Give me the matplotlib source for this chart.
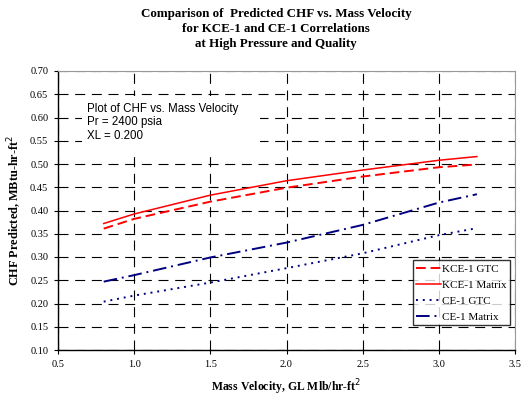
import numpy as np
import matplotlib
matplotlib.use("Agg")
import matplotlib.pyplot as plt
from matplotlib.patches import Rectangle

# data
mass_velocity = [0.8, 1.0, 1.5, 2.0, 2.5, 3.0, 3.25]
kce1_gtc = [0.361, 0.382, 0.419, 0.449, 0.473, 0.493, 0.499]
kce1_matrix = [0.372, 0.3925, 0.433, 0.464, 0.487, 0.508, 0.516]
ce1_gtc = [0.204, 0.217, 0.245, 0.276, 0.308, 0.347, 0.362]
ce1_matrix = [0.247, 0.261, 0.299, 0.331, 0.369, 0.417, 0.435]

x_ticks = [0.5, 1.0, 1.5, 2.0, 2.5, 3.0, 3.5]
y_ticks = [0.10, 0.15, 0.20, 0.25, 0.30, 0.35, 0.40, 0.45, 0.50, 0.55, 0.60, 0.65, 0.70]

serif = ["Liberation Serif", "DejaVu Serif"]
sans = ["Liberation Sans", "DejaVu Sans"]

fig = plt.figure(figsize=(5.31, 4.0), dpi=100)
ax = fig.add_axes([58 / 531, 50 / 400, 457 / 531, 279 / 400])

ax.plot(mass_velocity, kce1_gtc, color="red", lw=1.4, dashes=(5, 2.5), label="KCE-1 GTC", zorder=3)
ax.plot(mass_velocity, kce1_matrix, color="red", lw=1.1, label="KCE-1 Matrix", zorder=3)
ax.plot(mass_velocity, ce1_gtc, color="#000080", lw=1.4, dashes=(1, 2.5), label="CE-1 GTC", zorder=3)
ax.plot(mass_velocity, ce1_matrix, color="#000080", lw=1.4, dashes=(7, 2.5, 1, 2.5), label="CE-1 Matrix", zorder=3)

ax.set_xlim(0.5, 3.5)
ax.set_ylim(0.10, 0.70)
ax.set_xticks(x_ticks)
ax.set_yticks(y_ticks)
ax.set_xticklabels([f"{v:.1f}" for v in x_ticks], family=serif, fontsize=7.5)
ax.set_yticklabels([f"{v:.2f}" for v in y_ticks], family=serif, fontsize=7.5)
ax.tick_params(direction="out", length=3, width=0.8, color="black", pad=4)

ax.grid(True, color="black", lw=0.8, dashes=(9, 6))
ax.set_axisbelow(True)
for side in ("top", "right"):
    ax.spines[side].set_color("#999999")
for side in ("left", "bottom"):
    ax.spines[side].set_color("black")
    ax.spines[side].set_linewidth(1.0)

# white box behind the note, hiding the grid as in the original
ax.add_patch(Rectangle((0.052, 0.705), 0.39, 0.205, transform=ax.transAxes,
                       facecolor="white", edgecolor="none", zorder=1.5))
ax.text(0.69, 0.632, "Plot of CHF vs. Mass Velocity\nPr = 2400 psia\nXL = 0.200",
        family=sans, fontsize=8.3, va="top", ha="left", linespacing=1.2, zorder=2)

leg = ax.legend(loc="lower right", bbox_to_anchor=(0.995, 0.08),
                prop={"family": serif, "size": 8}, frameon=True, fancybox=False,
                handlelength=2.2, handletextpad=0.1, borderpad=0.35, labelspacing=0.55,
                borderaxespad=0.2)
leg.get_frame().set_edgecolor("black")
leg.get_frame().set_linewidth(1.0)

fig.text(0.52, 0.98, "Comparison of  Predicted CHF vs. Mass Velocity\nfor KCE-1 and CE-1 Correlations\nat High Pressure and Quality",
         family=serif, fontsize=9.4, fontweight="bold", ha="center", va="top", linespacing=1.35)
ax.set_xlabel("Mass Velocity, GL Mlb/hr-ft$^2$", family=serif, fontsize=8.5, fontweight="bold", labelpad=6)
ax.set_ylabel("CHF Predicted, MBtu-hr-ft$^2$", family=serif, fontsize=8.8, fontweight="bold", labelpad=4)

fig.savefig("out.png", dpi=100)
